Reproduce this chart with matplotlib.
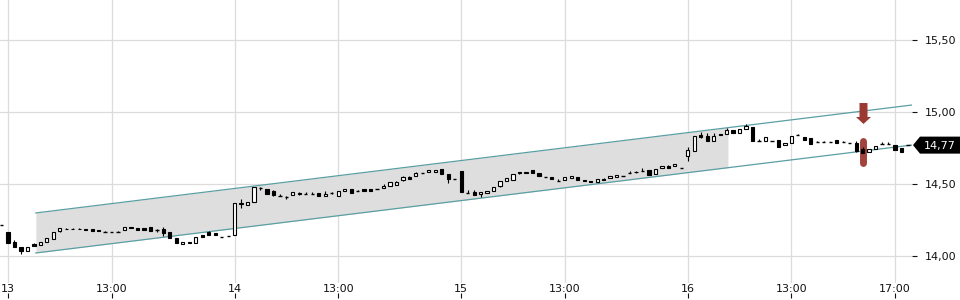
import numpy as np
import matplotlib
matplotlib.use("Agg")
import matplotlib.pyplot as plt
from matplotlib.path import Path
from matplotlib.patches import Polygon
from matplotlib import transforms

# ---------------- data ----------------
# candle positions: 15-minute slots, 35 per trading day (09:00 - 17:30); slot -1 = previous close
positions = list(range(-1, 140))

opens = [14.215,
    14.169, 14.095, 14.065, 14.037, 14.081, 14.074, 14.095, 14.120, 14.174, 14.190,
    14.190, 14.190, 14.188, 14.187, 14.180, 14.170, 14.165, 14.170, 14.178, 14.192,
    14.197, 14.197, 14.204, 14.178, 14.185, 14.165, 14.123, 14.080, 14.100, 14.092,
    14.148, 14.165, 14.160, 14.134, 14.136, 14.146, 14.360, 14.356, 14.373, 14.470,
    14.467, 14.453, 14.415, 14.408, 14.426, 14.440, 14.430, 14.432, 14.437, 14.415,
    14.438, 14.419, 14.449, 14.466, 14.449, 14.462, 14.462, 14.465, 14.472, 14.484,
    14.493, 14.530, 14.548, 14.553, 14.573, 14.585, 14.586, 14.604, 14.569, 14.537,
    14.590, 14.435, 14.447, 14.428, 14.436, 14.449, 14.484, 14.519, 14.526, 14.580,
    14.583, 14.595, 14.574, 14.547, 14.547, 14.523, 14.528, 14.544, 14.548, 14.530,
    14.520, 14.516, 14.535, 14.542, 14.548, 14.556, 14.576, 14.581, 14.588, 14.600,
    14.572, 14.609, 14.625, 14.623, 14.609, 14.692, 14.731, 14.842, 14.831, 14.801,
    14.849, 14.849, 14.877, 14.855, 14.882, 14.894, 14.800, 14.801, 14.799, 14.808,
    14.769, 14.783, 14.838, 14.829, 14.822, 14.790, 14.790, 14.794, 14.808, 14.790,
    14.787, 14.787, 14.740, 14.720, 14.741, 14.776, 14.776, 14.771, 14.752, 14.771]

closes = [14.215,
    14.089, 14.061, 14.037, 14.065, 14.072, 14.097, 14.125, 14.165, 14.192, 14.185,
    14.185, 14.185, 14.183, 14.174, 14.174, 14.170, 14.165, 14.170, 14.199, 14.201,
    14.182, 14.183, 14.176, 14.178, 14.158, 14.123, 14.088, 14.095, 14.090, 14.132,
    14.132, 14.148, 14.144, 14.134, 14.136, 14.366, 14.366, 14.377, 14.481, 14.473,
    14.428, 14.424, 14.415, 14.408, 14.442, 14.430, 14.430, 14.432, 14.415, 14.433,
    14.438, 14.449, 14.463, 14.436, 14.449, 14.449, 14.449, 14.465, 14.488, 14.512,
    14.514, 14.547, 14.537, 14.578, 14.573, 14.599, 14.600, 14.569, 14.535, 14.537,
    14.442, 14.435, 14.424, 14.444, 14.451, 14.477, 14.519, 14.540, 14.569, 14.575,
    14.574, 14.574, 14.553, 14.547, 14.538, 14.523, 14.547, 14.558, 14.528, 14.522,
    14.515, 14.537, 14.528, 14.555, 14.562, 14.556, 14.576, 14.585, 14.588, 14.565,
    14.604, 14.625, 14.614, 14.641, 14.609, 14.734, 14.831, 14.824, 14.801, 14.831,
    14.840, 14.873, 14.856, 14.880, 14.905, 14.801, 14.800, 14.826, 14.799, 14.759,
    14.785, 14.835, 14.838, 14.806, 14.778, 14.790, 14.790, 14.794, 14.787, 14.790,
    14.787, 14.729, 14.717, 14.740, 14.764, 14.776, 14.776, 14.736, 14.724, 14.771]

highs = [14.215,
    14.169, 14.108, 14.065, 14.065, 14.090, 14.097, 14.125, 14.165, 14.192, 14.195,
    14.195, 14.195, 14.188, 14.187, 14.180, 14.176, 14.165, 14.176, 14.199, 14.201,
    14.197, 14.197, 14.204, 14.186, 14.200, 14.165, 14.123, 14.095, 14.100, 14.132,
    14.148, 14.176, 14.160, 14.134, 14.136, 14.366, 14.394, 14.377, 14.481, 14.482,
    14.467, 14.458, 14.432, 14.420, 14.442, 14.443, 14.445, 14.444, 14.437, 14.450,
    14.447, 14.449, 14.463, 14.466, 14.458, 14.462, 14.462, 14.465, 14.497, 14.512,
    14.518, 14.555, 14.553, 14.585, 14.573, 14.599, 14.600, 14.604, 14.569, 14.537,
    14.590, 14.458, 14.455, 14.444, 14.451, 14.477, 14.519, 14.540, 14.569, 14.580,
    14.583, 14.600, 14.574, 14.547, 14.547, 14.535, 14.547, 14.558, 14.548, 14.530,
    14.520, 14.537, 14.542, 14.555, 14.562, 14.556, 14.592, 14.592, 14.612, 14.600,
    14.604, 14.625, 14.632, 14.641, 14.609, 14.756, 14.831, 14.860, 14.853, 14.855,
    14.849, 14.890, 14.877, 14.880, 14.915, 14.894, 14.810, 14.826, 14.799, 14.808,
    14.785, 14.835, 14.850, 14.829, 14.822, 14.800, 14.800, 14.794, 14.808, 14.800,
    14.787, 14.800, 14.755, 14.740, 14.764, 14.790, 14.790, 14.771, 14.752, 14.771]

lows = [14.215,
    14.089, 14.061, 14.014, 14.037, 14.072, 14.074, 14.095, 14.120, 14.168, 14.185,
    14.185, 14.185, 14.183, 14.174, 14.174, 14.170, 14.165, 14.170, 14.178, 14.192,
    14.182, 14.183, 14.176, 14.170, 14.140, 14.123, 14.088, 14.080, 14.090, 14.092,
    14.132, 14.148, 14.144, 14.134, 14.136, 14.146, 14.331, 14.356, 14.373, 14.455,
    14.428, 14.418, 14.415, 14.395, 14.426, 14.425, 14.430, 14.432, 14.415, 14.415,
    14.430, 14.419, 14.449, 14.436, 14.449, 14.449, 14.449, 14.465, 14.472, 14.484,
    14.490, 14.520, 14.537, 14.553, 14.573, 14.585, 14.586, 14.569, 14.510, 14.537,
    14.442, 14.435, 14.424, 14.410, 14.436, 14.449, 14.480, 14.519, 14.526, 14.570,
    14.574, 14.574, 14.553, 14.547, 14.532, 14.523, 14.528, 14.544, 14.528, 14.522,
    14.515, 14.516, 14.528, 14.542, 14.548, 14.556, 14.576, 14.575, 14.588, 14.565,
    14.572, 14.609, 14.614, 14.623, 14.609, 14.659, 14.731, 14.820, 14.801, 14.801,
    14.840, 14.849, 14.856, 14.855, 14.882, 14.801, 14.800, 14.801, 14.799, 14.759,
    14.769, 14.783, 14.838, 14.806, 14.778, 14.790, 14.790, 14.794, 14.787, 14.790,
    14.787, 14.720, 14.717, 14.720, 14.741, 14.776, 14.776, 14.736, 14.724, 14.771]

x_tick_pos = [0, 16, 35, 51, 70, 86, 105, 121, 137]
x_tick_labels = ["13", "13:00", "14", "13:00", "15", "13:00", "16", "13:00", "17:00"]
y_ticks = [14.0, 14.5, 15.0, 15.5]
y_tick_labels = ["14,00", "14,50", "15,00", "15,50"]

# trend channel
channel_x = [4.3, 139.7]
channel_upper = [14.299, 15.049]
channel_lower = [14.021, 14.771]
channel_fill_end = 111.2

# signal marker
signal_pos = 132
signal_arrow_price = 14.990
signal_bar = [14.649, 14.802]

last_price = 14.77
last_label = "14,77"

# ---------------- drawing ----------------
GRID = "#dcdcdc"
TEAL = "#5a9fa3"
RED = "#9b3a32"

fig = plt.figure(figsize=(9.6, 3.0), dpi=100)
ax = fig.add_axes([0.0, 17 / 300, 912 / 960, 283 / 300])
ax.set_xlim(-1.236, 139.63)
ax.set_ylim(13.8125, 15.7778)

for s in ax.spines.values():
    s.set_visible(False)

ax.set_xticks(x_tick_pos)
ax.set_xticklabels(x_tick_labels)
ax.set_yticks(y_ticks)
ax.set_yticklabels(y_tick_labels)
ax.yaxis.tick_right()
ax.tick_params(axis="x", length=0, pad=0.5, labelsize=8, colors="#111111")
ax.tick_params(axis="y", length=3.6, width=0.8, pad=5.5, labelsize=8, colors="#111111")
ax.grid(True, color=GRID, linewidth=0.9, zorder=0)
ax.set_axisbelow(True)

# bottom tick marks below labels
secax = ax.secondary_xaxis(-9.5 / 283)
secax.set_xticks(x_tick_pos)
secax.set_xticklabels([])
secax.tick_params(axis="x", length=3.4, width=0.8, colors="#111111")
for s in secax.spines.values():
    s.set_visible(False)

# channel fill + lines
xs = np.array(channel_x)
up = np.array(channel_upper)
lo = np.array(channel_lower)
fx = np.array([channel_x[0], channel_fill_end])
fu = np.interp(fx, xs, up)
fl = np.interp(fx, xs, lo)
ax.fill_between(fx, fl, fu, color="#dedede", linewidth=0, zorder=1)
ax.plot(xs, up, color=TEAL, linewidth=0.9, zorder=2)
ax.plot(xs, lo, color=TEAL, linewidth=0.9, zorder=2)

# signal bar (behind candles)
ax.plot([signal_pos, signal_pos], signal_bar, color=RED, linewidth=5.0,
        solid_capstyle="round", zorder=2.5, alpha=0.95)

# candles
pos = np.array(positions, dtype=float)
o = np.array(opens); c = np.array(closes); h = np.array(highs); l = np.array(lows)
bw = 0.5
ax.vlines(pos, l, h, color="black", linewidth=0.8, zorder=3)
body_lo = np.minimum(o, c)
body_h = np.abs(c - o)
doji = body_h < 0.004
upc = (c > o) & ~doji
dnc = (c < o) & ~doji
ax.bar(pos[upc], body_h[upc], bottom=body_lo[upc], width=bw, facecolor="white",
       edgecolor="black", linewidth=0.8, zorder=3.5)
ax.bar(pos[dnc], body_h[dnc], bottom=body_lo[dnc], width=bw, facecolor="black",
       edgecolor="black", linewidth=0.8, zorder=3.5)
ax.hlines(o[doji], pos[doji] - bw / 2, pos[doji] + bw / 2, color="black",
          linewidth=1.0, zorder=3.5)

# signal arrow marker (custom path)
arrow_verts = np.array([
    [-4, 10.5], [4, 10.5], [4, -3.5], [7.5, -3.5], [0, -10.5],
    [-7.5, -3.5], [-4, -3.5], [-4, 10.5]]) / 21.0
arrow_path = Path(arrow_verts, closed=True)
ax.plot([signal_pos], [signal_arrow_price], marker=arrow_path, markersize=15.1,
        color=RED, markeredgewidth=0, zorder=5, linestyle="none")

# last price label (arrow box)
fig.canvas.draw()
ax_px, ay_px = ax.get_yaxis_transform().transform((1.0, last_price))
half = 8.5
verts = [(ax_px + 1, ay_px), (ax_px + 8, ay_px + half), (962, ay_px + half),
         (962, ay_px - half), (ax_px + 8, ay_px - half)]
poly = Polygon(verts, closed=True, facecolor="black", edgecolor="none",
               transform=transforms.IdentityTransform(), clip_on=False, zorder=10)
ax.add_artist(poly)
ttrans = transforms.offset_copy(ax.get_yaxis_transform(), fig=fig, x=11.5, y=0, units="dots")
ax.text(1.0, last_price, last_label, transform=ttrans, color="white", fontsize=8,
        va="center_baseline", ha="left", zorder=11, clip_on=False)

fig.savefig("out.png", dpi=100)
